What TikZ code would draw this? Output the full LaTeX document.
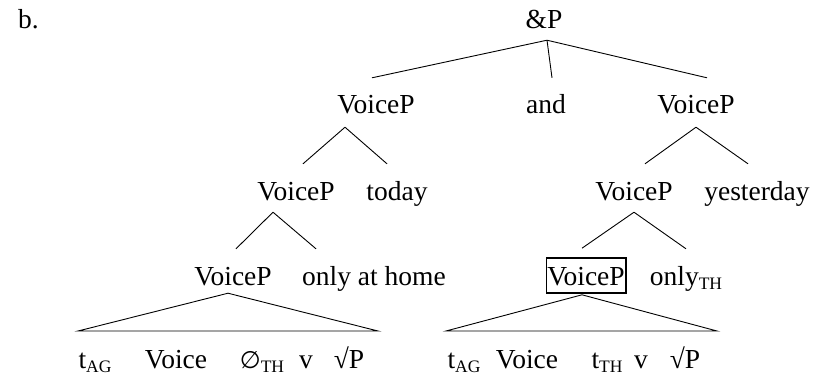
\documentclass[tikz,border=0pt]{standalone}
\usepackage{fontspec}
\setmainfont{Liberation Serif}
\newfontfamily\symfont{DejaVu Sans}
\newcommand{\lowidx}[1]{\raisebox{-0.16em}{\fontsize{17.5pt}{17.5pt}\selectfont #1}}
\begin{document}
\begin{tikzpicture}[x=1pt,y=-1pt,
  lbl/.style={inner sep=0pt,anchor=base,font=\fontsize{27.5pt}{30pt}\selectfont,text height=19pt,text depth=6pt},
  br/.style={line width=0.9pt},
  boxed/.style={lbl,draw,line width=1.6pt,inner xsep=1pt,inner ysep=1pt,text height=26pt,text depth=7pt}]
\useasboundingbox (0,0) rectangle (813,376);
% heading and root
\node[lbl,anchor=base west] (ex) at (18,28) {b.};
\node[lbl] (root) at (544,28) {\&P};
% first level
\node[lbl] (vl1) at (376,113) {VoiceP};
\node[lbl] (and) at (546,113) {and};
\node[lbl] (vr1) at (696,113) {VoiceP};
% second level
\node[lbl] (vl2) at (296,200) {VoiceP};
\node[lbl] (today) at (397,200) {today};
\node[lbl] (vr2) at (634,200) {VoiceP};
\node[lbl] (yest) at (757,200) {yesterday};
% third level
\node[lbl] (vl3) at (233,285) {VoiceP};
\node[lbl] (home) at (374,285) {only at home};
\node[boxed] (vr3) at (586,285) {VoiceP};
\node[lbl] (onlyth) at (686,285) {only\lowidx{TH}};
% terminal strings
\node[lbl] (tag1) at (95,368) {t\lowidx{AG}};
\node[lbl] (voi1) at (176,368) {Voice};
\node[lbl] (nul1) at (262,368) {{\symfont\fontsize{24pt}{24pt}\selectfont ∅}\lowidx{TH}};
\node[lbl] (v1) at (306,368) {v};
\node[lbl] (rp1) at (349,368) {√P};
\node[lbl] (tag2) at (464,368) {t\lowidx{AG}};
\node[lbl] (voi2) at (527,368) {Voice};
\node[lbl] (tth2) at (607,368) {t\lowidx{TH}};
\node[lbl] (v2) at (641,368) {v};
\node[lbl] (rp2) at (685,368) {√P};
% branches
\draw[br] ([xshift=3pt,yshift=-6pt]root.south) -- ([xshift=-4pt,yshift=16pt]vl1.north);
\draw[br] ([xshift=3pt,yshift=-6pt]root.south) -- ([xshift=6pt,yshift=16pt]and.north);
\draw[br] ([xshift=3pt,yshift=-6pt]root.south) -- ([xshift=11pt,yshift=16pt]vr1.north);
\draw[br] ([xshift=-31pt,yshift=-8pt]vl1.south) -- ([xshift=7pt,yshift=17pt]vl2.north);
\draw[br] ([xshift=-31pt,yshift=-8pt]vl1.south) -- ([xshift=-10pt,yshift=17pt]today.north);
\draw[br] ([yshift=-8pt]vr1.south) -- ([xshift=11pt,yshift=17pt]vr2.north);
\draw[br] ([yshift=-8pt]vr1.south) -- ([xshift=-9pt,yshift=17pt]yest.north);
\draw[br] ([xshift=-23pt,yshift=-6pt]vl2.south) -- ([xshift=3pt,yshift=17pt]vl3.north);
\draw[br] ([xshift=-23pt,yshift=-6pt]vl2.south) -- ([xshift=-58pt,yshift=17pt]home.north);
\draw[br] ([yshift=-6pt]vr2.south) -- ([xshift=-4pt,yshift=9pt]vr3.north);
\draw[br] ([yshift=-6pt]vr2.south) -- ([xshift=0pt,yshift=17pt]onlyth.north);
% triangles over the terminal strings
\coordinate (bl1) at (78,331);
\coordinate (br1) at (378,331);
\coordinate (bl2) at (446,331);
\coordinate (br2) at (717,331);
\draw[br] (bl1) -- ([xshift=-5pt,yshift=-2pt]vl3.south) -- (br1) -- cycle;
\draw[br] (bl2) -- ([xshift=-4pt,yshift=-1pt]vr3.south) -- (br2) -- cycle;
\end{tikzpicture}
\end{document}
